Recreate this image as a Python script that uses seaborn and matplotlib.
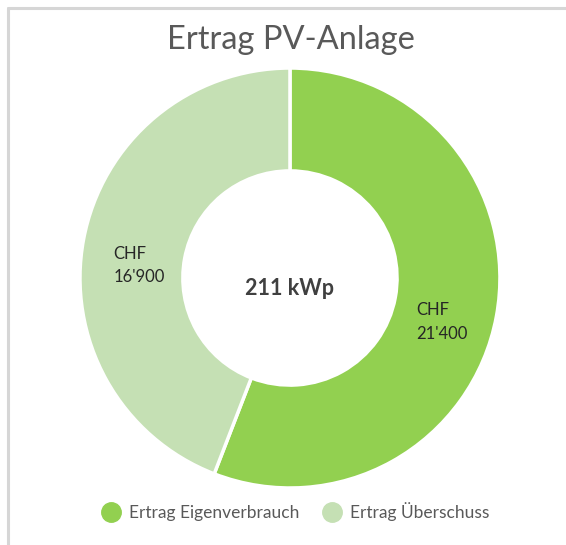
import numpy as np
import pandas as pd
import matplotlib
matplotlib.use("Agg")
import matplotlib.pyplot as plt
import seaborn as sns
from matplotlib.lines import Line2D

# data
categories = ["Ertrag Eigenverbrauch", "Ertrag Überschuss"]
values = [21400, 16900]
value_labels = ["CHF\n21'400", "CHF\n16'900"]
colors = ["#92d050", "#c5e0b4"]
title = "Ertrag PV-Anlage"
center_label = "211 kWp"

sns.set_style("white")
plt.rcParams['font.family'] = ['Lato', 'DejaVu Sans']

fig = plt.figure(figsize=(5.66, 5.45), dpi=100)
ax = fig.add_axes([0.1413, 0.1046, 0.742, 0.7706])

wedges, _ = ax.pie(values, colors=colors, startangle=90, counterclock=False,
                   radius=1, wedgeprops=dict(width=0.49, edgecolor="white", linewidth=2.5))
ax.set_xlim(-1, 1)
ax.set_ylim(-1, 1)
ax.set_aspect("equal")

# slice labels
label_pos = [(0.60, -0.21), (-0.84, 0.06)]
for (x, y), txt in zip(label_pos, value_labels):
    ax.text(x, y, txt, ha="left", va="center", fontsize=12, color="#262626", linespacing=1.6)

ax.text(0.0, -0.05, center_label, ha="center", va="center", fontsize=15.5,
        fontweight="bold", color="#404040")

fig.text(0.514, 0.926, title, ha="center", va="center", fontsize=23.5, color="#595959")

handles = [Line2D([0], [0], marker="o", linestyle="", markersize=14,
                  markerfacecolor=c, markeredgecolor=c) for c in colors]
fig.legend(handles, categories, loc="center", bbox_to_anchor=(0.515, 0.062), ncol=2,
           frameon=False, fontsize=12.5, labelcolor="#595959", handletextpad=0.05,
           columnspacing=0.9)

# frame lines top and left
fig.add_artist(Line2D([8 / 566, 1], [1 - 8 / 545, 1 - 8 / 545], color="#d6d6d6", lw=2.2,
                      transform=fig.transFigure))
fig.add_artist(Line2D([8 / 566, 8 / 566], [0, 1 - 8 / 545], color="#d6d6d6", lw=2.2,
                      transform=fig.transFigure))

fig.savefig("out.png", dpi=100)
